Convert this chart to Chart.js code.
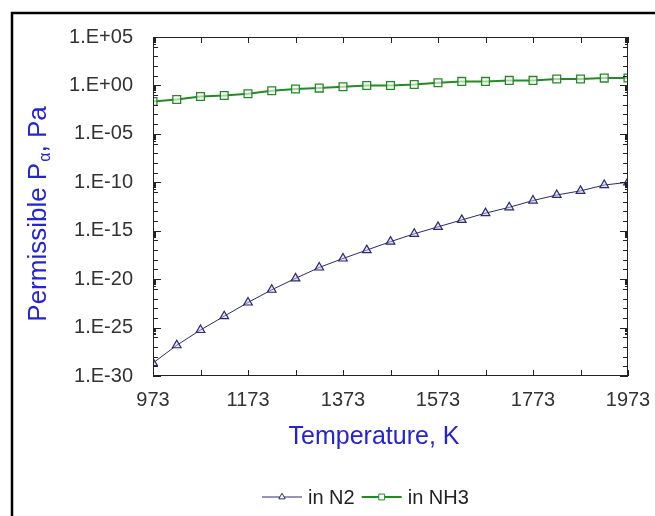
<!DOCTYPE html>
<html>
<head>
<meta charset="utf-8">
<script src="https://cdn.jsdelivr.net/npm/chart.js@4.4.0/dist/chart.umd.min.js"></script>
<style>
  body { margin: 0; background: #fff; }
</style>
</head>
<body>
<canvas id="myChart" width="655" height="516"></canvas>
<script>
// data

const temperatures = [973, 1023, 1073, 1123, 1173, 1223, 1273, 1323, 1373, 1423, 1473,
  1523, 1573, 1623, 1673, 1723, 1773, 1823, 1873, 1923, 1973];

const n2Pressure = [2.2e-29, 1.5e-27, 5.6e-26, 1.5e-24, 3.9e-23, 8e-22, 1.2e-20, 1.6e-19,
  1.35e-18, 1.0e-17, 7.4e-17, 4.8e-16, 2.5e-15, 1.3e-14, 6.5e-14, 2.6e-13, 1.3e-12,
  4.9e-12, 1.3e-11, 5.2e-11, 1.0e-10];

const nh3Pressure = [0.022, 0.035, 0.072, 0.093, 0.14, 0.28, 0.42, 0.53, 0.72, 1.0, 1.0,
  1.26, 1.9, 2.6, 2.6, 3.3, 3.3, 4.6, 4.6, 5.7, 5.8];

const xTickValues = [973, 1173, 1373, 1573, 1773, 1973];
const yTickValues = [1e5, 1e0, 1e-5, 1e-10, 1e-15, 1e-20, 1e-25, 1e-30];
const yTickLabels = ["1.E+05", "1.E+00", "1.E-05", "1.E-10", "1.E-15", "1.E-20", "1.E-25", "1.E-30"];

const blue = "#2323d8";
const navy = "#2b2b6e";
const green = "#238b23";

// frame, inward ticks, titles and legend
const decorPlugin = {
  id: "decor",
  afterDraw(chart) {
    const ctx = chart.ctx;
    const area = chart.chartArea;
    const xs = chart.scales.x;
    const ys = chart.scales.y;

    ctx.save();
    // outer frame (only left and top show in the picture)
    ctx.strokeStyle = "#000";
    ctx.lineWidth = 2.5;
    ctx.beginPath();
    ctx.moveTo(12, 516);
    ctx.lineTo(12, 13);
    ctx.lineTo(655, 13);
    ctx.stroke();

    // plot box
    ctx.lineWidth = 1;
    ctx.strokeStyle = "#222";
    ctx.strokeRect(area.left + 0.5, area.top + 0.5, area.right - area.left - 1, area.bottom - area.top - 1);

    // x ticks every 100 K, bottom and top
    ctx.beginPath();
    for (let t = 973; t <= 1973; t += 100) {
      const px = Math.round(xs.getPixelForValue(t)) + 0.5;
      ctx.moveTo(px, area.bottom);
      ctx.lineTo(px, area.bottom - 6);
      ctx.moveTo(px, area.top);
      ctx.lineTo(px, area.top + 6);
    }
    // y ticks: decades, majors and a cluster below each major
    for (let d = -30; d <= 5; d++) {
      const py = Math.round(ys.getPixelForValue(Math.pow(10, d))) + 0.5;
      const len = d % 5 === 0 ? 8 : 5;
      ctx.moveTo(area.left, py);
      ctx.lineTo(area.left + len, py);
      ctx.moveTo(area.right, py);
      ctx.lineTo(area.right - len, py);
      if ((d + 1) % 5 === 0) {
        for (let k = 2; k <= 9; k++) {
          const pm = Math.round(ys.getPixelForValue(k * Math.pow(10, d))) + 0.5;
          ctx.moveTo(area.left, pm);
          ctx.lineTo(area.left + 3, pm);
          ctx.moveTo(area.right, pm);
          ctx.lineTo(area.right - 3, pm);
        }
      }
    }
    ctx.stroke();

    // x title
    ctx.fillStyle = blue;
    ctx.font = "25px Arial";
    ctx.textAlign = "center";
    ctx.textBaseline = "middle";
    ctx.fillText("Temperature, K", 374, 437);

    // y title with subscript alpha
    ctx.translate(37, 214);
    ctx.rotate(-Math.PI / 2);
    ctx.textAlign = "left";
    ctx.textBaseline = "alphabetic";
    const part1 = "Permissible P";
    const part2 = "\u03b1";
    const part3 = ", Pa";
    ctx.font = "26px Arial";
    const w1 = ctx.measureText(part1).width;
    const w3 = ctx.measureText(part3).width;
    ctx.font = "16px Arial";
    const w2 = ctx.measureText(part2).width;
    let x0 = -(w1 + w2 + w3 + 1) / 2;
    ctx.font = "26px Arial";
    ctx.fillText(part1, x0, 9);
    ctx.font = "16px Arial";
    ctx.fillText(part2, x0 + w1 + 1, 13);
    ctx.font = "26px Arial";
    ctx.fillText(part3, x0 + w1 + w2 + 1, 9);
    ctx.restore();

    // legend
    ctx.save();
    ctx.font = "20px Arial";
    ctx.textBaseline = "middle";
    const ly = 497;
    let lx = 262;
    chart.data.datasets.forEach((ds) => {
      ctx.strokeStyle = ds.borderColor;
      ctx.lineWidth = ds.borderWidth;
      ctx.beginPath();
      ctx.moveTo(lx, ly);
      ctx.lineTo(lx + 40, ly);
      ctx.stroke();
      ctx.fillStyle = "#fff";
      ctx.lineWidth = 1;
      Chart.helpers.drawPoint(ctx, {
        pointStyle: ds.pointStyle,
        radius: ds.pointRadius * 0.75,
        borderWidth: 1,
        rotation: 0
      }, lx + 20, ly);
      ctx.fillStyle = "#222";
      ctx.fillText(ds.label, lx + 46, ly + 1);
      lx += 46 + ctx.measureText(ds.label).width + 7;
    });
    ctx.restore();
  }
};

const ctx = document.getElementById("myChart").getContext("2d");
const myChart = new Chart(ctx, {
  type: "line",
  data: {
    labels: temperatures,
    datasets: [
      {
        label: "in N2",
        data: temperatures.map((t, i) => ({ x: t, y: n2Pressure[i] })),
        borderColor: navy,
        borderWidth: 1,
        pointStyle: "triangle",
        pointRadius: 5,
        pointBorderWidth: 1.2,
        pointBorderColor: navy,
        pointBackgroundColor: "rgba(200,200,240,0.45)",
        tension: 0
      },
      {
        label: "in NH3",
        data: temperatures.map((t, i) => ({ x: t, y: nh3Pressure[i] })),
        borderColor: green,
        borderWidth: 2,
        pointStyle: "rect",
        pointRadius: 5.5,
        pointBorderWidth: 1.3,
        pointBorderColor: green,
        pointBackgroundColor: "rgba(255,255,255,0.6)",
        tension: 0
      }
    ]
  },
  options: {
    responsive: false,
    animation: false,
    layout: { padding: { top: 37, right: 27, left: 0, bottom: 0 } },
    plugins: {
      legend: { display: false },
      tooltip: { enabled: false }
    },
    scales: {
      x: {
        type: "linear",
        min: 973,
        max: 1973,
        grid: { display: false, drawTicks: false },
        border: { display: false },
        afterBuildTicks: (scale) => {
          scale.ticks = xTickValues.map((v) => ({ value: v }));
        },
        afterFit: (scale) => {
          scale.height = 140;
          scale.paddingLeft = 0;
          scale.paddingRight = 0;
        },
        ticks: {
          padding: 12,
          color: "#333",
          font: { family: "Arial", size: 20 },
          maxRotation: 0,
          callback: (value) => String(value)
        }
      },
      y: {
        type: "logarithmic",
        min: 1e-30,
        max: 1e5,
        grid: { display: false, drawTicks: false },
        border: { display: false },
        afterBuildTicks: (scale) => {
          scale.ticks = yTickValues.map((v) => ({ value: v }));
        },
        afterFit: (scale) => {
          scale.width = 153;
          scale.paddingTop = 0;
          scale.paddingBottom = 0;
        },
        ticks: {
          padding: 20,
          color: "#333",
          font: { family: "Arial", size: 20 },
          callback: (value, index) => yTickLabels[index]
        }
      }
    }
  },
  plugins: [decorPlugin]
});
</script>
</body>
</html>
